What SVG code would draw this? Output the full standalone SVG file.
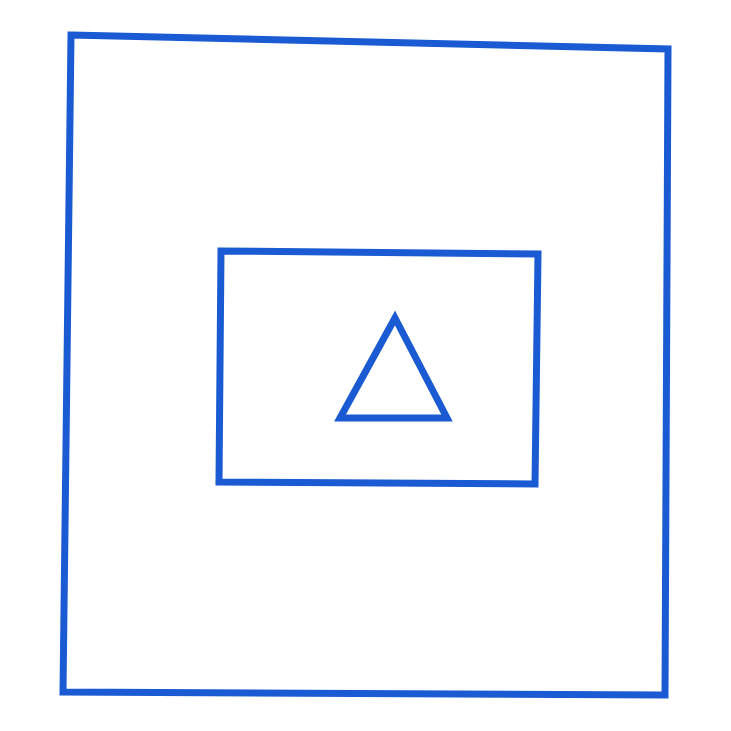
<svg xmlns="http://www.w3.org/2000/svg" width="731" height="731" viewBox="0 0 731 731">
<style>
.s{fill:none;stroke:#1a5ad2;stroke-width:7;stroke-linejoin:miter}
</style>
<rect width="731" height="731" fill="#ffffff"/>
<g id="outer"><polygon class="s" points="71,35 668,49 665,695 63,692"/></g>
<g id="inner"><polygon class="s" points="221,251 538,254 535,484 219,482"/></g>
<g id="triangle"><polygon class="s" points="395,318 447,418 340,418"/></g>
</svg>
